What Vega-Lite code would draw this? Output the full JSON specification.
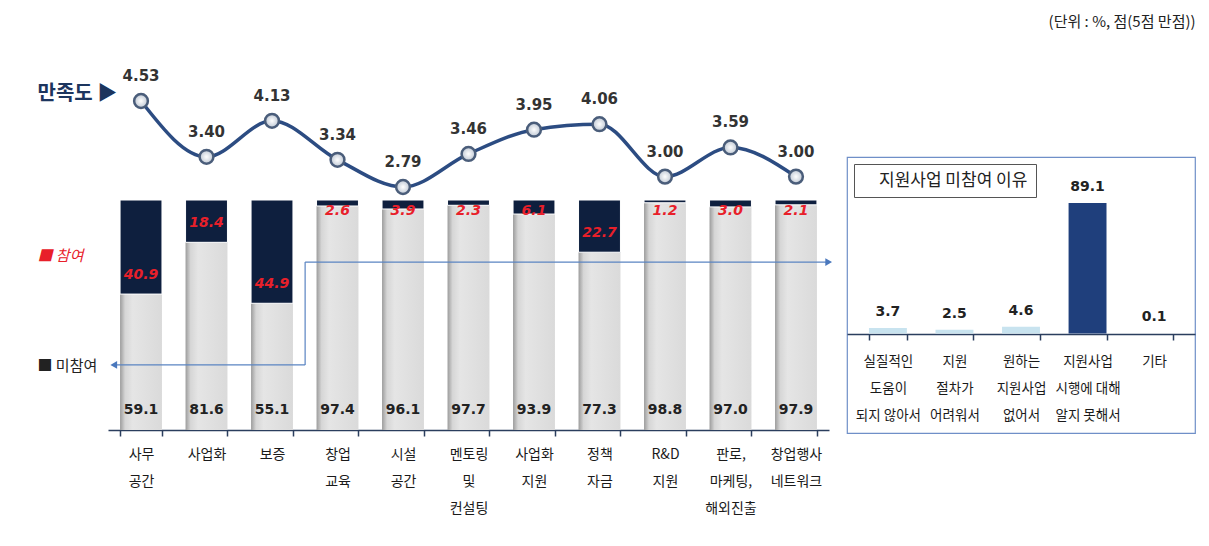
{
  "$schema": "https://vega.github.io/schema/vega-lite/v6.json",
  "padding": {"left": 37, "top": 15, "right": 5, "bottom": 5},
  "background": "white",
  "config": {"view": {"stroke": null}, "font": "Noto Sans CJK KR"},
  "title": {
    "text": "(단위 : %, 점(5점 만점))", "anchor": "end", "offset": 10,
    "fontSize": 15, "fontWeight": "normal", "color": "#222222", "font": "Noto Sans CJK KR"
  },
  "resolve": {"scale": {"shape": "independent"}, "legend": {"shape": "independent"}},
  "datasets": {
    "main": [
      {"cat": "사무\n공간", "non": 59.1, "part": 40.9, "sat": 4.53},
      {"cat": "사업화", "non": 81.6, "part": 18.4, "sat": 3.40},
      {"cat": "보증", "non": 55.1, "part": 44.9, "sat": 4.13},
      {"cat": "창업\n교육", "non": 97.4, "part": 2.6, "sat": 3.34},
      {"cat": "시설\n공간", "non": 96.1, "part": 3.9, "sat": 2.79},
      {"cat": "멘토링\n및\n컨설팅", "non": 97.7, "part": 2.3, "sat": 3.46},
      {"cat": "사업화\n지원", "non": 93.9, "part": 6.1, "sat": 3.95},
      {"cat": "정책\n자금", "non": 77.3, "part": 22.7, "sat": 4.06},
      {"cat": "R&D\n지원", "non": 98.8, "part": 1.2, "sat": 3.00},
      {"cat": "판로,\n마케팅,\n해외진출", "non": 97.0, "part": 3.0, "sat": 3.59},
      {"cat": "창업행사\n네트워크", "non": 97.9, "part": 2.1, "sat": 3.00}
    ],
    "reason": [
      {"reason": "실질적인\n도움이\n되지 않아서", "v": 3.7},
      {"reason": "지원\n절차가\n어려워서", "v": 2.5},
      {"reason": "원하는\n지원사업\n없어서", "v": 4.6},
      {"reason": "지원사업\n시행에 대해\n알지 못해서", "v": 89.1},
      {"reason": "기타", "v": 0.1}
    ]
  },
  "spacing": 13,
  "hconcat": [
    {
      "width": 721,
      "height": 390,
      "data": {"name": "main"},
      "resolve": {"scale": {"y": "independent"}, "axis": {"y": "independent"}},
      "layer": [
        {
          "encoding": {
            "x": {
              "field": "cat", "type": "nominal", "sort": null,
              "scale": {"paddingInner": 0.36, "paddingOuter": 0.184},
              "axis": {
                "title": null, "labelAngle": 0, "labelExpr": "split(datum.label, '\\n')",
                "labelFontSize": 14, "labelColor": "#1a1a1a", "labelLineHeight": 27,
                "labelPadding": 11, "labelBaseline": "top", "tickBand": "extent",
                "tickSize": 6, "tickColor": "#2b3e5e", "tickWidth": 1.5,
                "domainColor": "#2b3e5e", "domainWidth": 1.5, "labelOverlap": false,
                "labelFont": "Noto Sans CJK KR"
              }
            }
          },
          "layer": [
            {
              "mark": {
                "type": "bar",
                "fill": {
                  "gradient": "linear", "x1": 0, "y1": 0, "x2": 1, "y2": 0,
                  "stops": [
                    {"offset": 0, "color": "#9c9c9c"},
                    {"offset": 0.12, "color": "#d6d6d6"},
                    {"offset": 0.3, "color": "#e5e5e5"},
                    {"offset": 1, "color": "#dadada"}
                  ]
                }
              },
              "encoding": {
                "y": {
                  "field": "non", "type": "quantitative",
                  "scale": {"domain": [0, 169.57], "nice": false, "zero": false},
                  "axis": {
                    "values": [76, 28],
                    "labelExpr": "datum.value > 50 ? '■ 참여' : '■ 미참여'",
                    "labelAlign": "left", "labelPadding": 71, "ticks": false,
                    "domain": false, "grid": false, "title": null, "labelFontSize": 15,
                    "labelBaseline": "middle",
                    "labelColor": {"condition": {"test": "datum.value > 50", "value": "#e8202a"}, "value": "#222222"},
                    "labelFontStyle": {"condition": {"test": "datum.value > 50", "value": "italic"}, "value": "normal"}
                  }
                }
              }
            },
            {
              "mark": {"type": "bar", "fill": "#0e1f3e", "stroke": "white", "strokeWidth": 1},
              "encoding": {
                "y": {"field": "non", "type": "quantitative"},
                "y2": {"datum": 100}
              }
            },
            {
              "mark": {"type": "text", "dy": -20, "font": "DejaVu Sans", "fontWeight": "bold", "fontSize": 14, "fill": "#222222"},
              "encoding": {
                "y": {"datum": 0},
                "text": {"field": "non", "type": "quantitative", "format": ".1f"}
              }
            },
            {
              "transform": [{"filter": "datum.part > 10"}],
              "mark": {"type": "text", "dy": -19, "font": "DejaVu Sans", "fontWeight": "bold", "fontStyle": "italic", "fontSize": 14, "fill": "#e8202a"},
              "encoding": {
                "y": {"field": "non", "type": "quantitative"},
                "text": {"field": "part", "type": "quantitative", "format": ".1f"}
              }
            },
            {
              "transform": [{"filter": "datum.part <= 10"}],
              "mark": {"type": "text", "dy": 11, "font": "DejaVu Sans", "fontWeight": "bold", "fontStyle": "italic", "fontSize": 14, "fill": "#e8202a"},
              "encoding": {
                "y": {"datum": 100},
                "text": {"field": "part", "type": "quantitative", "format": ".1f"}
              }
            },
            {
              "data": {"values": [{}]},
              "mark": {"type": "rule", "color": "#5a84c2", "strokeWidth": 1.2},
              "encoding": {
                "x": {"datum": "보증", "bandPosition": 1.29},
                "x2": {"datum": "창업행사\n네트워크", "bandPosition": 1.28},
                "y": {"datum": 73}
              }
            },
            {
              "data": {"values": [{}]},
              "mark": {"type": "rule", "color": "#5a84c2", "strokeWidth": 1.2},
              "encoding": {
                "x": {"datum": "보증", "bandPosition": 1.29},
                "y": {"datum": 73},
                "y2": {"datum": 28.3}
              }
            },
            {
              "data": {"values": [{}]},
              "mark": {"type": "rule", "color": "#5a84c2", "strokeWidth": 1.2},
              "encoding": {
                "x": {"datum": "사무\n공간", "bandPosition": -0.15},
                "x2": {"datum": "보증", "bandPosition": 1.29},
                "y": {"datum": 28.3}
              }
            },
            {
              "data": {"values": [{}]},
              "mark": {"type": "point", "shape": "triangle-left", "filled": true, "color": "#4a78bd", "size": 60, "opacity": 1},
              "encoding": {
                "x": {"datum": "사무\n공간", "bandPosition": -0.15},
                "y": {"datum": 28.3}
              }
            },
            {
              "data": {"values": [{}]},
              "mark": {"type": "point", "shape": "triangle-right", "filled": true, "color": "#4a78bd", "size": 60, "opacity": 1},
              "encoding": {
                "x": {"datum": "창업행사\n네트워크", "bandPosition": 1.28},
                "y": {"datum": 73}
              }
            }
          ]
        },
        {
          "encoding": {
            "x": {"field": "cat", "type": "nominal", "sort": null},
            "y": {
              "field": "sat", "type": "quantitative",
              "scale": {"domain": [-2.126, 5.764], "nice": false, "zero": false},
              "axis": {
                "orient": "left", "values": [4.69], "labelExpr": "'만족도 ▶'",
                "labelAlign": "left", "labelPadding": 71, "labelFontSize": 20,
                "labelFontWeight": "bold", "labelColor": "#1c355e", "labelBaseline": "middle",
                "domain": false, "ticks": false, "grid": false, "title": null
              }
            }
          },
          "layer": [
            {"mark": {"type": "line", "color": "#2c4c82", "strokeWidth": 3.5, "interpolate": "monotone"}},
            {
              "mark": {
                "type": "point", "filled": true, "size": 190, "opacity": 1,
                "fill": {"gradient": "radial", "stops": [{"offset": 0, "color": "#ffffff"}, {"offset": 1, "color": "#bfc8d4"}]},
                "stroke": "#4a5d7a", "strokeWidth": 2.5
              }
            },
            {
              "mark": {"type": "text", "dy": -25, "font": "DejaVu Sans", "fontWeight": "bold", "fontSize": 15, "fill": "#333333"},
              "encoding": {"text": {"field": "sat", "type": "quantitative", "format": ".2f"}}
            }
          ]
        }
      ]
    },
    {
      "spacing": 0,
      "resolve": {"scale": {"shape": "independent"}, "legend": {"shape": "independent"}},
      "vconcat": [
        {
          "width": 348,
          "height": 116,
          "data": {"values": [{}]},
          "mark": {"type": "point", "opacity": 0},
          "encoding": {}
        },
        {
          "width": 348,
          "height": 276,
          "data": {"name": "reason"},
          "view": {"stroke": "#6f8fc8", "strokeWidth": 1.2},
          "encoding": {
            "x": {
              "field": "reason", "type": "nominal", "sort": null,
              "scale": {"paddingInner": 0.43, "paddingOuter": 0.33},
              "axis": {
                "title": null, "labelAngle": 0, "labelExpr": "split(datum.label, '\\n')",
                "labelFontSize": 13.5, "labelColor": "#1a1a1a", "labelLineHeight": 27,
                "labelPadding": 14, "labelBaseline": "top", "tickBand": "extent",
                "tickSize": 6, "tickColor": "#2b3e5e", "tickWidth": 1.5,
                "domainColor": "#2b3e5e", "domainWidth": 1.5, "labelOverlap": false,
                "offset": -99
              }
            },
            "y": {
              "field": "v", "type": "quantitative",
              "scale": {"domain": [-67.9, 120.5], "nice": false, "zero": false},
              "axis": null
            }
          },
          "layer": [
            {
              "mark": {"type": "bar"},
              "encoding": {
                "color": {"condition": {"test": "datum.v > 50", "value": "#1f3f7c"}, "value": "#c8e3ef"}
              }
            },
            {
              "mark": {"type": "text", "dy": -16, "font": "DejaVu Sans", "fontWeight": "bold", "fontSize": 14, "fill": "#222222"},
              "encoding": {"text": {"field": "v", "type": "quantitative", "format": ".1f"}}
            },
            {
              "mark": {"type": "point", "opacity": 0},
              "encoding": {
                "shape": {
                  "datum": "지원사업 미참여 이유",
                  "legend": {
                    "orient": "top-left", "offset": 7, "title": null,
                    "strokeColor": "#555555", "fillColor": "white", "padding": 8,
                    "symbolSize": 0, "symbolStrokeWidth": 0, "symbolOpacity": 0, "labelOffset": 0,
                    "labelFontSize": 17, "labelColor": "#222222", "labelLimit": 400,
                    "labelExpr": "'\u00a0\u00a0\u00a0\u00a0\u00a0지원사업 미참여 이유\u00a0\u00a0\u00a0\u00a0\u00a0'"
                  }
                }
              }
            }
          ]
        }
      ]
    }
  ]
}
